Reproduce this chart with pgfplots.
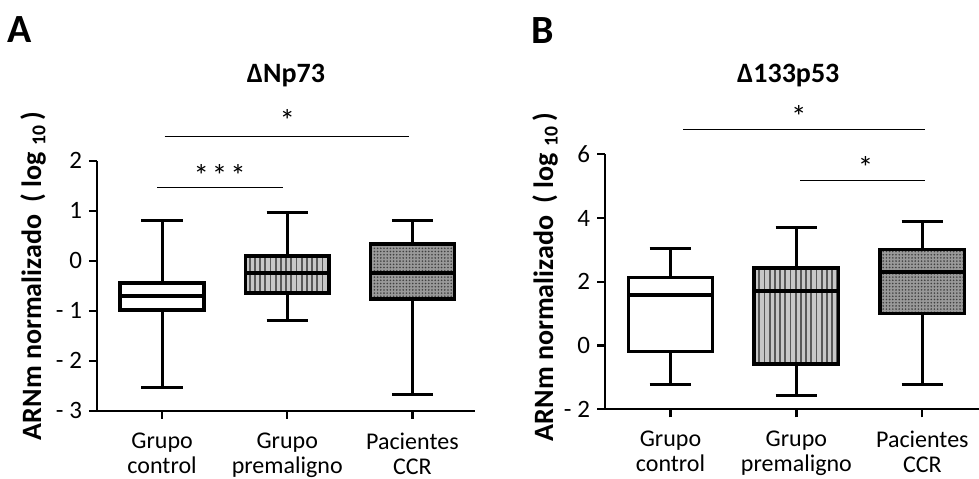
\documentclass[border=0pt]{standalone}
\usepackage{pgfplots}
\pgfplotsset{compat=1.18}
\usepgfplotslibrary{statistics}
\usetikzlibrary{patterns.meta}
\usepackage{fontspec}
\setmainfont{Carlito}

\pgfplotsset{
  panel/.style={
    scale only axis,
    clip=false,
    axis x line=bottom, axis y line=left,
    axis line style={-, line width=1.1pt},
    tick style={line width=1.1pt, black},
    tick align=outside,
    major tick length=4pt,
    xtick={0,1,2},
    xticklabels={Grupo\\control, Grupo\\premaligno, Pacientes\\CCR},
    xticklabel style={align=center, font=\fontsize{12}{12.5}\selectfont, yshift=-3.5pt},
    yticklabel style={font=\fontsize{12.5}{13}\selectfont},
    xmin=-0.52,
    ylabel={\bfseries ARNm normalizado\ \ ( log \textsubscript{10}\,)},
    ylabel style={font=\fontsize{14}{15}\selectfont, anchor=center},
    boxplot/draw direction=y,
    boxplot/box extend=0.67,
    boxplot/whisker extend=0.33,
  },
  bx/.style={draw=black, line width=1.5pt, solid,
    boxplot/every box/.style={line width=1.8pt, #1},
    boxplot/every median/.style={line width=1.8pt}},
}
% box styles
\tikzset{
  ctrl/.style={fill=white},
  prem/.style={fill=black!22, postaction={pattern={Lines[angle=90,distance=2.6pt,line width=0.9pt]}, pattern color=black!65}},
  ccr/.style={fill=black!40, postaction={pattern={Dots[distance=1.6pt,radius=0.45pt]}, pattern color=black!75}},
  star/.style={font=\fontsize{15.5}{16}\selectfont},
  ttl/.style={font=\bfseries\fontsize{14}{15}\selectfont},
  pnl/.style={font=\bfseries\fontsize{20}{22}\selectfont},
}

\begin{document}
\begin{tikzpicture}
% ---- panel A
\begin{axis}[panel,
  width=189pt, height=125pt,
  xmax=2.5, ymin=-3, ymax=2,
  ytick={-3,-2,-1,0,1,2},
  yticklabels={- 3,- 2,- 1,0,1,2},
  ylabel style={at={(axis description cs:-0.169,0.54)}},
]
\addplot[bx=ctrl, boxplot prepared={draw position=0,
  lower whisker=-2.54, lower quartile=-0.99, median=-0.71,
  upper quartile=-0.44, upper whisker=0.80}] coordinates {};
\addplot[bx=prem, boxplot prepared={draw position=1,
  lower whisker=-1.19, lower quartile=-0.65, median=-0.25,
  upper quartile=0.10, upper whisker=0.97}] coordinates {};
\addplot[bx=ccr, boxplot prepared={draw position=2,
  lower whisker=-2.67, lower quartile=-0.77, median=-0.25,
  upper quartile=0.33, upper whisker=0.80}] coordinates {};
% significance
\draw[line width=0.7pt] (axis cs:-0.04,1.46) -- (axis cs:0.97,1.46);
\node[star] at (axis cs:0.46,1.7) {*\kern1.5pt*\kern1.5pt*};
\draw[line width=0.7pt] (axis cs:0.02,2.48) -- (axis cs:1.97,2.48);
\node[star] at (axis cs:1.0,2.8) {*};
\node[ttl] at (axis description cs:0.5,1.34) {ΔNp73};
\node[pnl] at (axis description cs:-0.204,1.523) {A};
\end{axis}
% ---- panel B
\begin{axis}[panel,
  at={(254pt,0.7pt)}, anchor=south west,
  width=187pt, height=127.5pt,
  xmax=2.45, ymin=-2, ymax=6,
  ytick={-2,0,2,4,6},
  yticklabels={- 2,0,2,4,6},
  ylabel style={at={(axis description cs:-0.16,0.52)}},
]
\addplot[bx=ctrl, boxplot prepared={draw position=0,
  lower whisker=-1.21, lower quartile=-0.19, median=1.58,
  upper quartile=2.14, upper whisker=3.06}] coordinates {};
\addplot[bx=prem, boxplot prepared={draw position=1,
  lower whisker=-1.57, lower quartile=-0.58, median=1.71,
  upper quartile=2.44, upper whisker=3.69}] coordinates {};
\addplot[bx=ccr, boxplot prepared={draw position=2,
  lower whisker=-1.21, lower quartile=1.01, median=2.31,
  upper quartile=3.01, upper whisker=3.90}] coordinates {};
\draw[line width=0.7pt] (axis cs:0.10,6.77) -- (axis cs:2.02,6.77);
\node[star] at (axis cs:1.02,7.18) {*};
\draw[line width=0.7pt] (axis cs:1.03,5.18) -- (axis cs:2.02,5.18);
\node[star] at (axis cs:1.55,5.6) {*};
\node[ttl] at (axis description cs:0.49,1.308) {Δ133p53};
\node[pnl] at (axis description cs:-0.166,1.487) {B};
\end{axis}
\pgfresetboundingbox
\useasboundingbox (-48.5pt,-34pt) rectangle (441pt,205.35pt);
\end{tikzpicture}
\end{document}
